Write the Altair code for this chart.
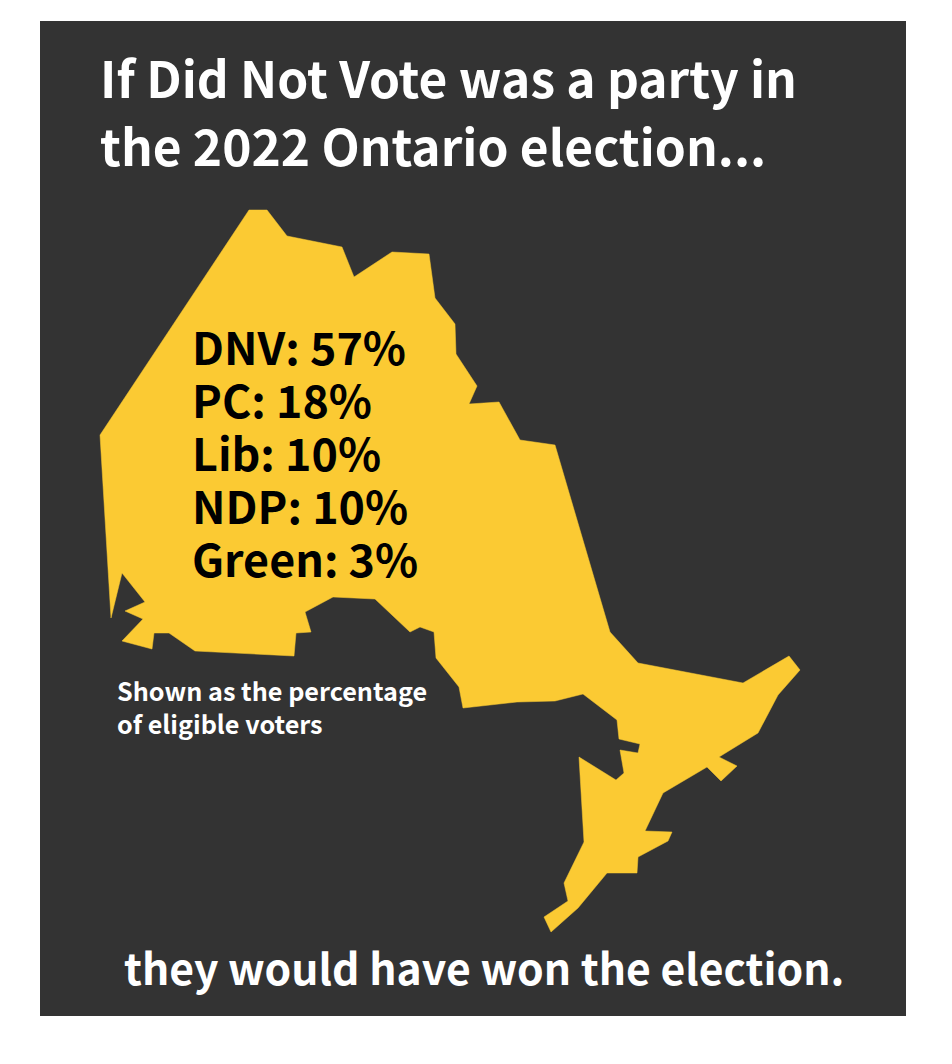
import altair as alt
import pandas as pd

PANEL = "#333333"
YELLOW = "#fbca33"
FONT = "Noto Sans CJK JP"

outline_x = [100,249,267,287,342,354,392,429,435,455,456,477,469,499,520,555,610,638,743,789,800,778,758,719,737,721,707,663,645,672,668,638,637,607,578,551,544,568,564,584,579,616,624,620,638,640,619,617,583,555,517,463,459,436,434,420,410,375,333,305,311,296,294,195,169,154,152,122,143,125,145,122,111]
outline_y = [435,210,210,236,247,277,252,254,298,324,354,386,404,402,440,445,632,663,683,656,670,695,733,757,766,781,767,793,831,832,841,857,873,873,908,932,917,901,883,842,757,780,773,750,753,744,739,720,694,701,702,708,687,658,632,627,632,599,597,612,632,633,656,651,633,633,649,641,619,611,602,573,618]

panel_left, panel_right = [40], [906]
panel_top, panel_bottom = [21], [1016]

title_lines = ["If Did Not Vote was a party in", "the 2022 Ontario election..."]
result_lines = ["DNV: 57%", "PC: 18%", "Lib: 10%", "NDP: 10%", "Green: 3%"]
note_lines = ["Shown as the percentage", "of eligible voters"]
footer_lines = ["they would have won the election."]

W, H = 900, 1010
xs = alt.Scale(domain=[8, 8 + W], nice=False, zero=False)
ys = alt.Scale(domain=[8 + H, 8], nice=False, zero=False)

panel = alt.Chart(pd.DataFrame({"a": panel_left, "b": panel_right, "t": panel_top, "u": panel_bottom})).mark_rect(color=PANEL).encode(
    x=alt.X("a:Q", scale=xs, axis=None), x2="b:Q",
    y=alt.Y("t:Q", scale=ys, axis=None), y2="u:Q",
)

shape = alt.Chart(pd.DataFrame({"x": outline_x, "y": outline_y, "i": range(len(outline_x))})).mark_line(
    interpolate="linear-closed", fill=YELLOW, stroke=YELLOW, strokeWidth=0.5
).encode(
    x=alt.X("x:Q", scale=xs, axis=None),
    y=alt.Y("y:Q", scale=ys, axis=None),
    order="i:Q",
)

def block(lines, left, first_baseline, step, size, color):
    df = pd.DataFrame({"t": lines, "n": range(len(lines))})
    df["py"] = first_baseline - 8 + df["n"] * step
    return alt.Chart(df).mark_text(
        align="left", baseline="alphabetic", font=FONT, fontWeight="bold", fontSize=size, color=color
    ).encode(x=alt.value(left - 8), y=alt.Y("py:Q", scale=None), text="t:N")

chart = alt.layer(
    panel, shape,
    block(title_lines, 100, 98, 68, 49.7, "#ffffff"),
    block(result_lines, 192, 365, 53, 44.8, "#000000"),
    block(note_lines, 117, 701, 33, 25.2, "#ffffff"),
    block(footer_lines, 124, 985, 0, 42.7, "#ffffff"),
).properties(width=W, height=H, padding=0).configure_view(stroke=None)

chart.save("out.html", embed_options={"renderer": "svg", "actions": False})
